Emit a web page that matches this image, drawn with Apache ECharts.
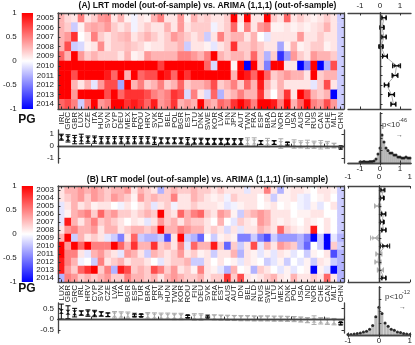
<!DOCTYPE html>
<html>
<head>
<meta charset="utf-8">
<title>LRT model vs ARIMA</title>
<script src="https://cdn.jsdelivr.net/npm/echarts@6/dist/echarts.min.js"></script>
<style>html,body{margin:0;padding:0;background:#fff;}</style>
</head>
<body>
<div id="main" style="width:415px;height:345px;"></div>
<script>
var FONT = 'Liberation Sans';

// ---- panel A data (out-of-sample vs out-of-sample) ----
var countriesA = ['IRL','GRC','GBR','LUX','CZE','ITA','HUN','SVN','CYP','DEU','MEX','PRT','ROU','HRV','SVK','TUR','BEL','POL','BGR','EST','LTU','DNK','SWE','KOR','LVA','FIN','JPN','AUT','TWN','FRA','ESP','BRA','NLD','NOR','IDN','USA','AUS','IND','RUS','CAN','CHE','MLT','CHN'];
var yearsA = ['2005','2006','2007','2008','2009','2010','2011','2012','2013','2014'];
var heatA = [
  [0.3,0.15,0.1,0.5,0.1,0.2,0.4,0.45,0.1,0.3,0.05,-0.05,0.1,0.05,0.3,0.5,0.1,0.1,0.4,0.05,0.3, 0.15,0.2,0.1,0.1,0.2,1,0.1,1,0.1,0.1,1,0.2,0.1,0.6,0.1,0.2,0.1,0.05,0.1,0.2,0.1,-0.2],
  [0.3,0.2,-0.2,0.05,0.3,0.35,0.3,0.4,0.2,0.1,0.2,-0.05,0.1,0.2,0.1,0.1,0.3,0.1,0.4,0.1,0.2, 0.2,0.2,-0.05,0.1,0.2,0.6,0.05,0.5,0.1,0.4,0.5,0.05,0.05,0.1,0.05,0.1,0.05,0.1,0.15,0.3,0.1,-0.2],
  [0.3,0.4,0.8,0,0.1,0.5,0.2,0.1,0.2,0.25,0.3,0.1,0.2,0.3,0.2,0.1,0.2,0.4,0.3,0.2,0.1, 0.2,-0.2,0.1,0.5,0.2,0.3,0.3,0.1,0.3,0,-0.1,0.1,0.1,0.1,0.1,0.4,0.1,0.1,0.2,0.1,0.1,-0.2],
  [0.3,0.7,-0.2,-0.15,0.05,0.1,0.45,0.1,0.2,0.2,0.25,0.2,0.15,0.05,0.1,0.1,0.2,0.2,0.3,-0.2,0.1, 0.1,0.05,-0.1,0.1,0.2,0.8,0.2,0.2,0.3,0.2,0.1,0.1,-0.35,0.05,0.3,0.05,0.1,0.2,0.2,0.05,0.1,-0.2],
  [0.6,0.3,1,0.4,0.2,0.3,0.2,0.2,0.2,0.1,0.3,0.05,0.1,0.4,0.3,0.3,0.3,0.3,0.5,0.5,0.4, 0.3,0.5,1,0.3,0.2,0.3,0.3,0.2,0.6,0.2,-0.3,0.2,-0.8,-0.4,0.4,0.2,0.1,0.4,0.3,0.3,0.2,-0.2],
  [1,1,1,1,1,1,1,1,1,1,1,1,1,1,1,0.75,1,1,1,1,1, 1,0.6,-0.15,1,1,0.05,1,-1,1,0.2,-0.5,1,1,0.1,0.1,-1,-0.5,1,-1,-0.3,0.7,-0.2],
  [1,1,0.7,1,1,1,1,0.9,0.6,1,0.3,1,0.6,0.7,0.7,1,0.9,0.6,1,0.8,1, 1,1,1,1,1,0.3,1,0.9,0.6,1,0.6,0.2,0.3,0.4,0.3,0.3,0.1,1,0.2,0.3,0.3,-0.2],
  [1,1,0.3,0.1,0.3,-0.1,0.4,0.7,0.7,-0.35,1,0.3,0.5,0.2,0.3,0.5,0.2,0.3,0.6,0.2,0.3, 0.3,0.4,0.7,0.2,0.3,0.5,0.2,0.6,0.3,0.9,0.3,0.1,0.3,0.1,0.1,0.1,0.1,-0.1,0.2,0.7,0.1,-0.2],
  [1,1,0.4,1,1,1,1,0.7,1,0.6,0.8,0.8,0.8,0.7,0.5,0.4,0.5,0.8,0.7,-0.15,0.5, 0.1,-0.15,0.6,-0.3,0.2,0.3,0.5,0.3,0.3,0.8,0.2,0,0.3,0.8,0.1,1,0.7,0.3,0.2,0.3,-1,-0.2],
  [0.6,0.7,0.5,-0.2,0.5,1,0.4,0.5,1,1,0.8,0.9,0.8,0.6,0.9,0.4,0.5,0.8,0.3,0.4,0.3, 1,0.4,0.3,0.6,0.5,0.8,1,0.8,0.5,1,1,0.9,0.5,1,0.3,0.6,1,0.5,0.4,0.7,0.4,-0.2]
];
var meanA = [0.75,0.65,0.55,0.6,0.55,0.55,0.5,0.5,0.5,0.5,0.5,0.5,0.5,0.5,0.45,0.45,0.45,0.45,0.45,0.42,0.42,0.42,0.4,0.4,0.4,0.4,0.38,0.38,0.35,0.35,0.3,0.3,0.3,0.22,0.2,0.18,0.15,0.15,0.12,0.12,0.1,0.05,-0.1];
var errA = [0.25,0.3,0.35,0.4,0.3,0.3,0.3,0.3,0.3,0.3,0.3,0.3,0.3,0.3,0.3,0.25,0.25,0.25,0.25,0.3,0.25,0.25,0.25,0.25,0.25,0.25,0.25,0.25,0.35,0.35,0.15,0.35,0.15,0.4,0.1,0.35,0.3,0.35,0.3,0.35,0.3,0.2,0.05];
var sigA = [1,1,1,1,1,1,1,1,1,1,1,1,1,1,1,1,1,1,1,1,1,1,1,1,1,1,1,1,0,0,1,0,1,0,1,0,0,0,0,0,0,0,1];
var yearMeanA = [0.2,0.1,0.2,0.05,0.25,0.83,0.75,0.33,0.58,0.67];
var yearErrA = [0.1,0.08,0.1,0.08,0.12,0.2,0.15,0.1,0.15,0.12];
var yearSigA = [1,1,1,1,1,1,1,1,1,1];
var binsA = [-1,-0.9,-0.8,-0.7,-0.6,-0.5,-0.4,-0.3,-0.2,-0.1,0,0.1,0.2,0.3,0.4,0.5,0.6,0.7,0.8,0.9,1,1.1,1.2,1.3,1.4,1.5];
var histA = [0.02,0.02,0.03,0.02,0.02,0.03,0.03,0.04,0.08,0.18,0.3,0.56,0.42,0.3,0.25,0.2,0.2,0.16,0.16,0.12,0.12,0.1,0.1,0.12,0.1,0.1];

// ---- panel B data (out-of-sample vs in-sample) ----
var countriesB = ['LUX','GBR','GRC','IRL','HRV','CYP','SVN','CZE','LVA','ITA','BGR','ESP','TUR','BRA','PRT','JPN','HUN','TWN','KOR','ROU','FIN','DEU','SVK','FRA','EST','AUS','AUT','IDN','BEL','NLD','RUS','SWE','LTU','MEX','DNK','POL','USA','IND','NOR','CHE','CAN','MLT','CHN'];
var yearsB = ['2003','2004','2005','2006','2007','2008','2009','2010','2011','2012','2013','2014'];
var heatB = [
  [0.1,0.3,0.3,0.4,0.3,0.4,0.3,0.2,0.3,0.3,0.4,0.1,0.3,0.2,0.1,-0.3,0.2,0.3,0.2,0.2,0.3, 0.2,0.2,0.1,0.2,0.1,0.1,0.1,-0.1,0.1,0.1,0.5,0.1,-0.3,0.05,0.1,0.1,0.05,0,0.1,0.1,0.05,-0.2],
  [0.1,0.2,0.3,0.4,0.2,0.4,0.3,0.2,0.4,0.3,0.2,0.05,0.4,0.2,0.3,0.2,0.2,0.5,0.1,0.1,0.3, 0.2,0.1,0.05,0.1,-0.05,0.2,0.1,0.1,0.1,0,0.1,-0.2,0.05,0.05,0.1,-0.05,-0.1,0,0.05,0.1,0,-0.2],
  [-0.1,0.1,0.3,0.1,0.2,0.05,0.1,0.1,0,-0.05,0.1,0,0.1,0.2,-0.1,0.1,0.2,-0.05,0.1,0.1,0.2, 0.1,0.1,0.1,0.05,-0.1,-0.05,0.05,0.1,0.1,0,0.05,0.1,0,0.05,0,-0.05,-0.1,0.05,-0.1,0,0.1,-0.2],
  [-0.1,0.05,0.3,0.4,0.5,0.2,0.6,0.3,0.4,0.2,0.2,0.1,0.2,0.3,0.2,1,0.2,0.1,0.6,0.3,0.5, 0.6,0.2,0.1,0.4,0.3,0.05,-0.2,0.2,0.3,0.4,0.3,0.1,0.1,0.1,0,0.05,0.05,0.1,0.1,0,0,-0.2],
  [-0.1,0.9,0.3,0.1,0.3,0.5,0.2,0.3,0.2,0.1,0,0.1,0.05,-0.1,0.1,0.4,0.2,0.3,0.1,0.3,0.2, 0.2,0.1,0,0.3,0,-0.1,0.2,0.1,0.05,0.4,0.3,0.1,0.05,0.1,0.05,0,0.1,0.05,0,0.1,0,-0.2],
  [0.1,0.4,0.5,0.3,0.3,0.4,0.1,0.3,0.3,0.1,0.2,0.3,0.3,0.2,0.3,1,0.3,0.3,0.5,0.4,0.3, 0.3,0.1,0.2,0.1,-0.15,0.1,-0.1,0.1,0.1,0.3,0.2,0.1,0.6,0.2,0.1,0.05,0.1,0.9,0,0.1,0,-0.2],
  [0.3,1,-0.2,0.3,0.1,0.2,0.1,-0.1,-0.2,-0.5,0.1,0.6,-0.2,-0.3,-0.3,-0.2,-0.7,0.1,1,-0.2,-0.3, -0.6,0,-0.2,0.05,0.1,0.05,-0.5,-0.5,-0.2,-0.5,-0.7,-0.2,-0.4,-0.4,-0.4,-0.3,-0.5,-1,-0.2,-1,-0.1,-0.3],
  [1,0.4,1,0.6,1,0.5,0.5,0.5,1,0.6,0.3,0.8,0.3,0.3,0.8,0.2,0.3,0.1,0.5,-0.1,0.6, 0.3,0.3,0.9,0.2,-0.6,0.2,-0.2,0.1,0.7,-0.1,0.3,0.1,0.4,0.3,0.2,-0.3,-0.6,0,-0.2,-1,0.2,-0.2],
  [1,0.5,0.5,0.1,-0.1,0.3,0.4,0.2,0.1,-0.1,0.4,0.3,0.1,-0.2,0.3,0.2,0.1,0.2,0.4,0.1,0.2, 0.05,0.1,-0.2,0.1,0.1,0.3,-0.3,0.1,0.05,-0.1,0.05,-0.1,0.1,0.05,-0.1,0,-0.2,0.05,0,0.1,-0.7,-0.3],
  [0.9,0.5,0.3,-0.05,0,-0.2,0.5,0.1,0.2,0.3,0.1,0.2,0.2,0.1,0,-0.1,0.1,0.2,0.2,0.3,-0.2, -0.2,0.1,0,0.1,0,0.05,-0.1,0.1,0.05,0,-0.2,-0.1,0.05,-0.2,0,-0.1,0.05,-0.2,0.1,0.05,-0.2,-0.3],
  [0.9,0.4,0.2,0.6,0.8,1,0.2,0.5,-0.3,0.9,0.7,0.2,0.3,0.2,0.7,0.5,0.2,0.4,0.1,0.2,0.05, 0.5,0.1,0.05,-0.1,-0.3,0.3,0,0.05,-0.3,0.2,0.1,0,-0.1,0.05,-0.1,0,0.05,-1,0.05,-0.1,-1,-0.3],
  [-0.3,0.5,0.4,0.2,0.3,0.2,0.3,0.4,0.2,0.2,0.5,0.3,0.3,0.2,0.3,0.1,0.3,0.4,0.3,0.2,0.2, 0.3,0.1,0.2,0.2,0.8,0.2,0.7,0.1,0.05,0.1,0.2,0.3,0.1,0.05,0.3,0.1,0.1,0.2,0.1,0.6,0.1,-0.3]
];
var meanB = [0.35,0.32,0.3,0.28,0.28,0.26,0.24,0.2,0.2,0.19,0.18,0.18,0.17,0.15,0.14,0.13,0.13,0.12,0.12,0.12,0.1,0.1,0.1,0.08,0.07,0.06,0.05,0.04,0.04,0.03,0.03,0.03,0.02,0.02,0.01,0,-0.02,-0.05,-0.05,-0.08,-0.1,-0.12,-0.2];
var errB = [0.35,0.3,0.2,0.1,0.15,0.15,0.1,0.08,0.15,0.15,0.15,0.05,0.05,0.15,0.15,0.15,0.15,0.15,0.15,0.05,0.15,0.15,0.04,0.12,0.12,0.12,0.12,0.12,0.12,0.12,0.12,0.12,0.12,0.12,0.12,0.12,0.12,0.12,0.2,0.15,0.15,0.15,0.04];
var sigB = [1,1,1,1,1,1,1,1,0,0,0,1,1,0,0,0,0,0,0,1,0,0,1,0,0,0,0,0,0,0,0,0,0,0,0,0,0,0,0,0,0,0,1];
var yearMeanB = [0.12,0.1,-0.04,0.15,0.1,0.16,-0.12,0.2,0,-0.03,0.05,0.16];
var yearErrB = [0.05,0.05,0.1,0.06,0.05,0.06,0.15,0.15,0.1,0.1,0.1,0.06];
var yearSigB = [1,1,0,1,1,1,0,1,0,0,0,1];
var binsB = [-1,-0.9,-0.8,-0.7,-0.6,-0.5,-0.4,-0.3,-0.2,-0.1,0,0.1,0.2,0.3,0.4,0.5,0.6,0.7,0.8,0.9,1];
var histB = [0.01,0.01,0.02,0.03,0.04,0.06,0.08,0.12,0.2,0.38,0.58,0.45,0.25,0.18,0.12,0.1,0.06,0.05,0.03,0.02,0.01];

var myChart = echarts.init(document.getElementById('main'));
var grids = [], xAxes = [], yAxes = [], series = [], graphics = [], heatIdx = [];

function addGrid(g) { grids.push(g); return grids.length - 1; }
function addX(a) { xAxes.push(a); return xAxes.length - 1; }
function addY(a) { yAxes.push(a); return yAxes.length - 1; }

var frame = { show: true, lineStyle: { color: '#444', width: 1.3 } };
function ticks(extra) {
  return Object.assign({ show: true, inside: true, length: 2.5, lineStyle: { color: '#333', width: 1 } }, extra || {});
}
function lab(extra) {
  return Object.assign({ fontFamily: FONT, fontSize: 8, color: '#222' }, extra || {});
}
var noSplit = { show: false };

// error bars, drawn through the axes with api.coord
function errBars(sig, vertical) {
  return function (params, api) {
    var c = sig[params.dataIndex] ? '#000' : '#aaa';
    var st = { stroke: c, lineWidth: 1 };
    var a, b, w = 2.5, kids;
    if (vertical) {
      a = api.coord([api.value(0), api.value(1)]);
      b = api.coord([api.value(0), api.value(2)]);
      kids = [
        { type: 'line', shape: { x1: a[0], y1: a[1], x2: b[0], y2: b[1] }, style: st },
        { type: 'line', shape: { x1: a[0] - w, y1: a[1], x2: a[0] + w, y2: a[1] }, style: st },
        { type: 'line', shape: { x1: b[0] - w, y1: b[1], x2: b[0] + w, y2: b[1] }, style: st }
      ];
    } else {
      a = api.coord([api.value(0), api.value(1)]);
      b = api.coord([api.value(2), api.value(1)]);
      kids = [
        { type: 'line', shape: { x1: a[0], y1: a[1], x2: b[0], y2: b[1] }, style: st },
        { type: 'line', shape: { x1: a[0], y1: a[1] - w, x2: a[0], y2: a[1] + w }, style: st },
        { type: 'line', shape: { x1: b[0], y1: b[1] - w, x2: b[0], y2: b[1] + w }, style: st }
      ];
    }
    return { type: 'group', children: kids };
  };
}
function sigColor(sig) { return function (p) { return sig[p.dataIndex] ? '#000' : '#aaa'; }; }
var zeroLine = function (key) {
  var d = {}; d[key] = 0;
  return { silent: true, symbol: 'none', label: { show: false }, lineStyle: { type: 'dotted', color: '#000', width: 1 }, data: [d] };
};

function panel(P) {
  var top = P.top, H = 96;

  // colour bar
  var gc = addGrid({ left: 21, top: top, width: 12, height: H, show: true, borderWidth: 0,
    backgroundColor: { type: 'linear', x: 0, y: 0, x2: 0, y2: 1, colorStops: [
      { offset: 0, color: '#ff0000' }, { offset: 0.5, color: '#ffffff' }, { offset: 1, color: '#0000ff' }] } });
  addX({ type: 'value', gridIndex: gc, min: 0, max: 1, show: false });
  addY({ type: 'value', gridIndex: gc, min: -1, max: 1, interval: 0.5, axisLine: { show: false },
    axisTick: { show: false }, splitLine: noSplit, axisLabel: lab({ margin: 5 }) });

  // heatmap
  var gh = addGrid({ left: 58, top: top, width: 286, height: H });
  var hx = addX({ type: 'category', gridIndex: gh, data: P.countries, z: 5, axisLine: frame,
    axisTick: ticks({ interval: 0, alignWithLabel: true }),
    axisLabel: lab({ rotate: 90, interval: 0, margin: 3 }), splitLine: noSplit });
  addX({ type: 'category', gridIndex: gh, data: P.countries, position: 'top', z: 5, axisLine: frame,
    axisTick: ticks({ interval: 0, alignWithLabel: true }), axisLabel: { show: false }, splitLine: noSplit });
  var hy = addY({ type: 'category', gridIndex: gh, data: P.years, inverse: true, z: 5, axisLine: frame,
    axisTick: ticks({ interval: 0, alignWithLabel: true }), axisLabel: lab({ margin: 4, interval: 0 }), splitLine: noSplit });
  addY({ type: 'category', gridIndex: gh, data: P.years, inverse: true, position: 'right', z: 5, axisLine: frame,
    axisTick: ticks({ interval: 0, alignWithLabel: true }), axisLabel: { show: false }, splitLine: noSplit });
  var cells = [];
  P.rows.forEach(function (r, yi) { r.forEach(function (v, xi) { cells.push([xi, yi, v]); }); });
  heatIdx.push(series.length);
  series.push({ type: 'heatmap', xAxisIndex: hx, yAxisIndex: hy, data: cells, emphasis: { disabled: true } });

  // per-country means
  var gb = addGrid({ left: 58, top: P.bTop, width: 286, height: P.bH });
  var bx = addX({ type: 'category', gridIndex: gb, data: P.countries, z: 5, axisLine: frame,
    axisTick: ticks({ interval: 4 }), axisLabel: { show: false }, splitLine: noSplit });
  addX({ type: 'category', gridIndex: gb, data: P.countries, position: 'top', z: 5, axisLine: frame,
    axisTick: { show: false }, axisLabel: { show: false }, splitLine: noSplit });
  var by = addY({ type: 'value', gridIndex: gb, min: P.bMin, max: P.bMax, z: 5, axisLine: frame,
    axisTick: ticks({ customValues: P.bTicks }), axisLabel: lab({ customValues: P.bTicks, margin: 4 }), splitLine: noSplit });
  addY({ type: 'value', gridIndex: gb, min: P.bMin, max: P.bMax, position: 'right', z: 5, axisLine: frame,
    axisTick: ticks({ customValues: P.bTicks }), axisLabel: { show: false }, splitLine: noSplit });
  series.push({ type: 'custom', xAxisIndex: bx, yAxisIndex: by, renderItem: errBars(P.sig, true), z: 3,
    data: P.mean.map(function (m, i) { return [i, m - P.err[i], m + P.err[i]]; }) });
  series.push({ type: 'scatter', xAxisIndex: bx, yAxisIndex: by, z: 4, symbol: 'path://M0,0L10,0L0,10L10,10Z', symbolSize: [5, 5],
    itemStyle: { color: sigColor(P.sig) }, data: P.mean.map(function (m, i) { return [i, m]; }),
    markLine: zeroLine('yAxis') });

  // per-year means
  var gr = addGrid({ left: 348, top: top, width: 63, height: H });
  var rx = addX({ type: 'value', gridIndex: gr, min: P.rMin, max: P.rMax, position: 'top', z: 5, axisLine: frame,
    axisTick: ticks({ customValues: [-1, 0, 1] }), axisLabel: lab({ customValues: [-1, 0, 1], margin: P.rMargin }), splitLine: noSplit });
  addX({ type: 'value', gridIndex: gr, min: P.rMin, max: P.rMax, position: 'bottom', z: 5, axisLine: frame,
    axisTick: ticks({ customValues: [-1, 0, 1] }), axisLabel: { show: false }, splitLine: noSplit });
  var ry = addY({ type: 'category', gridIndex: gr, data: P.years, inverse: true, z: 5, axisLine: frame,
    axisTick: ticks({ interval: 0, alignWithLabel: true }), axisLabel: { show: false }, splitLine: noSplit });
  addY({ type: 'category', gridIndex: gr, data: P.years, inverse: true, position: 'right', z: 5, axisLine: frame,
    axisTick: { show: false }, axisLabel: { show: false }, splitLine: noSplit });
  series.push({ type: 'line', xAxisIndex: rx, yAxisIndex: ry, showSymbol: false, z: 2,
    lineStyle: { color: '#999', width: 0.8 }, data: P.yMean.map(function (m, i) { return [m, i]; }),
    markLine: zeroLine('xAxis') });
  series.push({ type: 'custom', xAxisIndex: rx, yAxisIndex: ry, renderItem: errBars(P.ySig, false), z: 3,
    data: P.yMean.map(function (m, i) { return [m - P.yErr[i], i, m + P.yErr[i]]; }) });
  series.push({ type: 'scatter', xAxisIndex: rx, yAxisIndex: ry, z: 4, symbol: 'path://M0,0L0,10L10,0L10,10Z', symbolSize: [6, 5],
    itemStyle: { color: sigColor(P.ySig) }, data: P.yMean.map(function (m, i) { return [m, i]; }) });

  // histogram
  var gs = addGrid({ left: 348, top: P.hTop, width: 63, height: P.hH });
  var sx = addX({ type: 'value', gridIndex: gs, min: P.rMin, max: P.rMax, z: 5, axisLine: frame,
    axisTick: ticks({ customValues: [-1, 0, 1] }), axisLabel: lab({ customValues: [-1, 0, 1], margin: 2 }), splitLine: noSplit });
  addX({ type: 'value', gridIndex: gs, min: P.rMin, max: P.rMax, position: 'top', z: 5, axisLine: frame,
    axisTick: ticks({ customValues: [-1, 0, 1] }), axisLabel: { show: false }, splitLine: noSplit });
  var sy = addY({ type: 'value', gridIndex: gs, min: 0, max: 1, interval: 0.25, z: 5, axisLine: frame,
    axisTick: ticks(), axisLabel: { show: false }, splitLine: noSplit });
  addY({ type: 'value', gridIndex: gs, min: 0, max: 1, position: 'right', z: 5, axisLine: frame,
    axisTick: { show: false }, axisLabel: { show: false }, splitLine: noSplit });
  series.push({ type: 'bar', xAxisIndex: sx, yAxisIndex: sy, barWidth: P.barW, z: 2,
    itemStyle: { color: '#c4c4c4', borderColor: '#888', borderWidth: 0.4 },
    data: P.bins.map(function (b, i) { return [b, P.hist[i]]; }), markLine: zeroLine('xAxis') });
  series.push({ type: 'scatter', xAxisIndex: sx, yAxisIndex: sy, symbolSize: 3, z: 4, itemStyle: { color: '#000' },
    data: P.bins.map(function (b, i) { return [b, P.hist[i]]; }) });

  // texts
  graphics.push({ type: 'text', left: 'center', top: P.titleTop, style: { text: P.title, fontFamily: FONT, fontSize: 8.5, fontWeight: 'bold', fill: '#111' } });
  graphics.push({ type: 'text', x: 27, y: P.pgY, style: { text: 'PG', fontFamily: FONT, fontSize: 12, fontWeight: 'bold', fill: '#111', align: 'center', verticalAlign: 'middle' } });
  graphics.push({ type: 'text', x: P.pX, y: P.pY, style: { text: 'p<10', fontFamily: FONT, fontSize: 8, fill: '#333', verticalAlign: 'middle' } });
  graphics.push({ type: 'text', x: P.pX + 17, y: P.pY - 5, style: { text: P.pExp, fontFamily: FONT, fontSize: 5.5, fill: '#333', verticalAlign: 'middle' } });
  graphics.push({ type: 'text', x: P.pX + 14, y: P.pY + 10, style: { text: '\u2192', fontFamily: FONT, fontSize: 7, fill: '#555', verticalAlign: 'middle' } });
}

panel({ top: 13, countries: countriesA, years: yearsA, rows: heatA,
  bTop: 130, bH: 33, bMin: -1.4, bMax: 1.35, bTicks: [-1, 0, 1],
  mean: meanA, err: errA, sig: sigA, yMean: yearMeanA, yErr: yearErrA, ySig: yearSigA,
  rMin: -1.6, rMax: 1.55, rMargin: 3, hTop: 113, hH: 50, bins: binsA, hist: histA, barW: 2,
  title: '(A) LRT model (out-of-sample) vs. ARIMA (1,1,1) (out-of-sample)', titleTop: 1, pgY: 120,
  pX: 382, pY: 125, pExp: '-46' });
panel({ top: 186, countries: countriesB, years: yearsB, rows: heatB,
  bTop: 303, bH: 30, bMin: -0.65, bMax: 0.75, bTicks: [-0.5, 0, 0.5],
  mean: meanB, err: errB, sig: sigB, yMean: yearMeanB, yErr: yearErrB, ySig: yearSigB,
  rMin: -1, rMax: 1, rMargin: 5, hTop: 287, hH: 48, bins: binsB, hist: histB, barW: 2.5,
  title: '(B) LRT model (out-of-sample) vs. ARIMA (1,1,1) (in-sample)', titleTop: 175, pgY: 289,
  pX: 385, pY: 297, pExp: '-12' });

var option = {
  animation: false,
  textStyle: { fontFamily: FONT },
  grid: grids,
  xAxis: xAxes,
  yAxis: yAxes,
  visualMap: { type: 'continuous', show: false, min: -1, max: 1, seriesIndex: heatIdx,
    inRange: { color: ['#0000ff', '#ffffff', '#ff0000'] } },
  graphic: graphics,
  series: series
};
myChart.setOption(option);
</script>
</body>
</html>
